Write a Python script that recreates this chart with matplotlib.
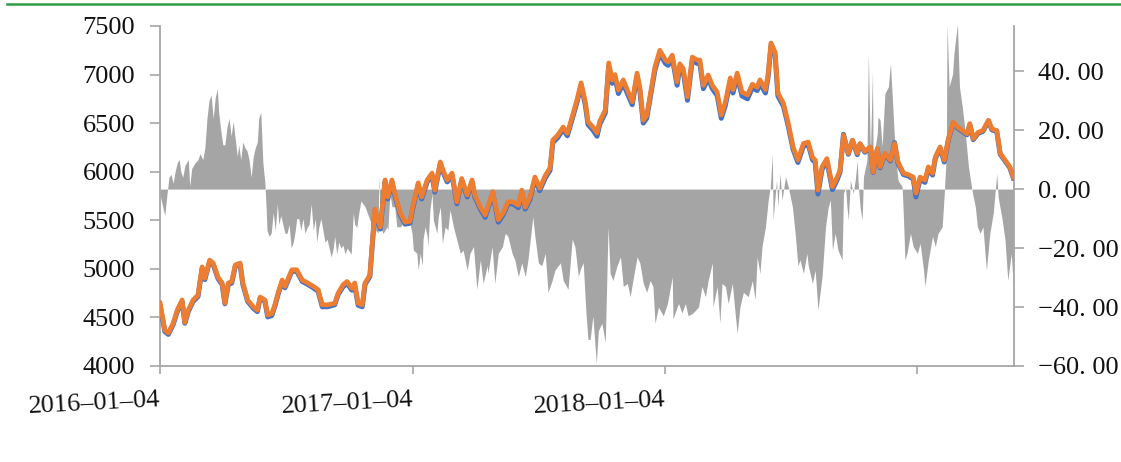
import matplotlib
matplotlib.use("Agg")
import matplotlib.pyplot as plt
import matplotlib.lines as mlines
import numpy as np
import pandas as pd

# ---------------- data ----------------
start_date = "2016-01-04"

# price lines: day offset from 2016-01-04
line_days = [0, 7, 12, 19, 25, 32, 36, 41, 48, 55, 61, 65, 72, 77, 84, 90, 94, 99, 104, 109,
             116, 120, 127, 135, 141, 145, 152, 156, 162, 167, 171, 177, 181, 191, 198, 206, 214, 222, 229, 235,
             243, 253, 258, 265, 271, 278, 282, 287, 293, 297, 304, 309, 311, 319, 326, 330, 336, 340, 348, 355,
             362, 366, 374, 379, 387, 394, 398, 406, 410, 416, 423, 430, 437, 445, 452, 456, 464, 471, 478, 482,
             490, 497, 504, 511, 519, 524, 529, 536, 543, 550, 558, 565, 569, 576, 584, 590, 597, 604, 610, 616,
             620, 627, 633, 637, 645, 650, 655, 659, 664, 671, 677, 684, 691, 695, 700, 705, 713, 717, 724, 732,
             736, 742, 749, 753, 758, 764, 771, 778, 782, 787, 794, 800, 807, 813, 819, 826, 830, 836, 843, 851,
             858, 865, 869, 877, 881, 885, 891, 895, 903, 910, 917, 924, 932, 939, 945, 949, 953, 959, 966, 974,
             981, 985, 990, 997, 1003, 1010, 1014, 1021, 1029, 1033, 1039, 1043, 1050, 1058, 1064, 1069, 1077, 1084, 1091, 1095,
             1101, 1108, 1113, 1119, 1123, 1130, 1136, 1142, 1149, 1155, 1162, 1169, 1173, 1178, 1185, 1192, 1200, 1205, 1212, 1217,
             1224, 1231, 1236]

orange_vals = [4648, 4370, 4340, 4440, 4575, 4680, 4450, 4575, 4680, 4730, 5020, 4905, 5090, 5060, 4915, 4855, 4650, 4855, 4870, 5040,
               5060, 4855, 4680, 4610, 4575, 4710, 4680, 4525, 4540, 4645, 4750, 4885, 4820, 4990, 4990, 4885, 4855, 4820, 4785, 4630,
               4630, 4645, 4750, 4835, 4870, 4800, 4855, 4645, 4630, 4855, 4935, 5400, 5615, 5430, 5915, 5740, 5915, 5780, 5575, 5480,
               5490, 5635, 5885, 5740, 5915, 5985, 5810, 6100, 6015, 5915, 5985, 5690, 5930, 5760, 5915, 5760, 5635, 5555, 5710, 5795,
               5505, 5575, 5690, 5690, 5655, 5810, 5635, 5740, 5945, 5830, 5960, 6040, 6325, 6375, 6460, 6395, 6565, 6740, 6915, 6720,
               6515, 6460, 6400, 6520, 6635, 7120, 6945, 7000, 6840, 6945, 6840, 6720, 7015, 6870, 6530, 6580, 6915, 7080, 7250, 7150,
               7130, 7200, 6925, 7110, 7060, 6770, 7180, 7150, 7150, 6890, 6995, 6890, 6820, 6585, 6720, 6965, 6845, 7015, 6820, 6790,
               6900, 6870, 6945, 6845, 7015, 7325, 7230, 6810, 6705, 6500, 6255, 6120, 6290, 6305, 6150, 6120, 5810, 6050, 6135, 5845,
               5945, 6015, 6375, 6190, 6325, 6190, 6290, 6210, 6255, 5995, 6240, 6050, 6190, 6120, 6290, 6100, 5985, 5970, 5945, 5780,
               5945, 5915, 6050, 5985, 6150, 6255, 6120, 6340, 6510, 6460, 6425, 6390, 6495, 6340, 6405, 6425, 6530, 6440, 6425, 6190,
               6120, 6050, 5945]

blue_vals = [4630, 4355, 4325, 4425, 4560, 4665, 4440, 4560, 4665, 4715, 5000, 4890, 5080, 5045, 4900, 4840, 4640, 4840, 4855, 5025,
             5045, 4840, 4665, 4595, 4560, 4695, 4665, 4505, 4520, 4630, 4735, 4870, 4805, 4975, 4975, 4870, 4840, 4805, 4770, 4610,
             4610, 4630, 4735, 4815, 4850, 4780, 4835, 4625, 4610, 4840, 4920, 5385, 5595, 5410, 5895, 5720, 5895, 5760, 5555, 5460,
             5470, 5615, 5865, 5720, 5895, 5965, 5790, 6080, 5995, 5895, 5965, 5670, 5910, 5740, 5895, 5740, 5615, 5530, 5690, 5775,
             5480, 5555, 5670, 5670, 5630, 5790, 5615, 5715, 5920, 5805, 5935, 6015, 6300, 6350, 6435, 6370, 6540, 6715, 6890, 6690,
             6485, 6430, 6365, 6490, 6605, 7090, 6910, 6970, 6805, 6910, 6805, 6690, 6985, 6835, 6500, 6550, 6885, 7050, 7220, 7115,
             7095, 7170, 6890, 7080, 7025, 6735, 7150, 7115, 7115, 6855, 6960, 6855, 6785, 6550, 6685, 6930, 6810, 6985, 6780, 6750,
             6865, 6835, 6910, 6810, 6985, 7300, 7200, 6780, 6675, 6470, 6230, 6095, 6265, 6280, 6125, 6095, 5770, 6025, 6110, 5815,
             5920, 5995, 6385, 6180, 6320, 6175, 6285, 6200, 6250, 5990, 6230, 6040, 6180, 6110, 6300, 6085, 5970, 5955, 5925, 5740,
             5925, 5890, 6030, 5965, 6135, 6240, 6100, 6330, 6500, 6450, 6415, 6380, 6485, 6330, 6395, 6415, 6520, 6430, 6415, 6180,
             6110, 6040, 5935]

# spread (grey area, right axis)
spread_days = [0, 3, 7, 10, 13, 16, 19, 22, 25, 28, 30, 33, 36, 41, 43, 46, 51, 55, 58, 62,
               65, 68, 71, 74, 77, 80, 83, 85, 88, 91, 94, 97, 100, 103, 106, 109, 112, 114, 117, 120,
               123, 126, 129, 132, 135, 138, 141, 143, 146, 149, 152, 154, 155, 158, 161, 164, 167, 170, 172, 175,
               178, 181, 184, 187, 190, 193, 196, 198, 201, 204, 207, 210, 213, 216, 219, 222, 225, 227, 230, 233,
               236, 239, 242, 245, 248, 251, 253, 256, 259, 262, 265, 268, 271, 274, 277, 280, 282, 285, 288, 291,
               297, 304, 309, 316, 317, 319, 323, 329, 330, 333, 336, 340, 343, 348, 352, 358, 362, 365, 367, 372,
               374, 377, 380, 381, 384, 387, 388, 391, 394, 396, 401, 403, 406, 409, 413, 417, 420, 425, 430, 435,
               439, 445, 449, 454, 459, 464, 468, 474, 475, 481, 485, 490, 496, 500, 504, 510, 514, 519, 524, 529,
               533, 540, 543, 548, 553, 558, 562, 568, 572, 580, 584, 591, 597, 601, 606, 609, 613, 617, 620, 623,
               627, 632, 635, 640, 645, 649, 652, 656, 662, 667, 671, 677, 681, 685, 691, 695, 700, 705, 710, 714,
               717, 722, 729, 735, 742, 743, 751, 756, 761, 765, 772, 780, 785, 790, 794, 800, 801, 807, 811, 814,
               819, 823, 829, 833, 836, 840, 845, 852, 858, 862, 865, 869, 872, 877, 881, 884, 887, 888, 893, 895,
               898, 901, 906, 910, 916, 920, 924, 927, 932, 937, 939, 945, 949, 953, 959, 964, 968, 971, 974, 978,
               982, 988, 990, 993, 995, 997, 1000, 1004, 1007, 1010, 1011, 1014, 1017, 1019, 1024, 1026, 1029, 1032, 1033, 1039,
               1040, 1043, 1046, 1050, 1055, 1058, 1061, 1065, 1069, 1075, 1077, 1079, 1082, 1087, 1091, 1097, 1101, 1106, 1108, 1113,
               1119, 1123, 1127, 1133, 1136, 1139, 1140, 1143, 1148, 1150, 1155, 1158, 1162, 1166, 1171, 1177, 1181, 1184, 1188, 1192,
               1197, 1202, 1207, 1212, 1214, 1220, 1224, 1228, 1233, 1236]

spread_vals = [-2, -5, -9, -2, 4, 5, 2, 6, 9, 10, 6, 4, 8, 10, 1, 7, 9, 10, 12, 10,
               14, 24, 30, 32, 24, 31, 34, 26, 20, 15, 15, 21, 24, 18, 23, 17, 11, 15, 10, 16,
               14, 13, 10, 4, 11, 14, 16, 24, 26, 9, 2, -8, -14, -16, -15, -8, -14, -5, -12, -9,
               -12, -15, -15, -12, -20, -18, -14, -10, -10, -14, -10, -15, -13, -12, -5, -14, -10, -18, -13, -10,
               -14, -18, -17, -20, -23, -20, -16, -22, -18, -20, -19, -22, -20, -21, -22, -8, -12, -13, -8, -4,
               -6, -10.5, -12.8, -15, 5, -12.8, -15, -12.8, -14, -1.5, -6, -6, -12.8, -12.8, -11.5, -10.5, -11.5, -15, -20.7, -21.8,
               -27.5, -21.8, -26, -17, -12.8, -16, -19.5, -7, -1.5, -10.5, -15, -9.4, -6, -18.4, -12.8, -14, -7, -12.8, -17.3, -21.8,
               -20.7, -27.5, -21.8, -19.5, -34, -24, -32, -26, -28.6, -19.5, -32, -21.8, -19.5, -15, -16, -21.8, -24, -29.7, -25, -29.7,
               -24, -9.4, -16, -25, -26, -21.8, -35, -31, -27.5, -25, -31, -34, -17, -19.5, -29.7, -27, -25, -42, -51, -51,
               -43, -59, -48, -45.5, -52, -12.8, -28.6, -31, -26, -23, -33, -32, -36.5, -31, -23, -25, -32, -35, -31, -33,
               -45.5, -40, -43, -38.8, -29.7, -44, -38.8, -42, -38.8, -43, -42, -40, -33, -36.5, -31, -25, -40, -33, -45.5, -32,
               -33, -38.8, -32, -42, -49, -40, -35, -36.5, -31, -37.6, -23, -28.6, -19.5, -12.8, -3.7, 0.8, 12, -10.5, 3, -6,
               5.3, -3.7, 4.2, 0.8, -6, -15, -26, -24, -28.6, -21.8, -26, -32, -27.5, -41, -29.7, -12.8, -6, -3.7, -20.7, -15,
               -20.7, -24, -1.5, 0.8, -6, -10.5, 3, -1.5, 3, 9.8, 3, -6, -10.5, 4.2, 9.8, 46, 12, 40, 9.8, 18.9,
               24.5, 23.4, 14.4, 32.4, 34.7, 42.6, 30, 12, 3, 0.8, -10.5, -24, -21.8, -15, -19.5, -21.8, -18.4, -27.5, -33, -24,
               -16, -19.5, -15, -12.8, -1.5, 12, 56, 34.7, 39, 46, 56, 34.7, 28, 20, 7.6, -1.5, -6, -12.8, -15, -12.8,
               -27.5, -15, -8, 5.3, -2.6, -10.5, -17.3, -31, -21.8, -33]

left_ticks = [4000, 4500, 5000, 5500, 6000, 6500, 7000, 7500]
right_ticks = [-60, -40, -20, 0, 20, 40]
x_tick_labels = ["2016-01-04", "2017-01-04", "2018-01-04", "2019-01-04"]
x_tick_shown = ["2016-01-04", "2017-01-04", "2018-01-04", ""]
end_date = "2019-05-25"

# ---------------- plotting ----------------
plt.rcParams['font.family'] = ['Liberation Serif', 'DejaVu Serif']
FS = 19

base = pd.Timestamp(start_date)
line_x = base + pd.to_timedelta(line_days, unit="D")
spread_x = base + pd.to_timedelta(spread_days, unit="D")

fig = plt.figure(figsize=(11.21, 4.62), dpi=100)
ax = fig.add_axes([160/1121, 96/462, (1014-160)/1121, (366-26)/462])
ax2 = ax.twinx()

# grey area on secondary (right) axis, behind lines
ax2.fill_between(spread_x, 0, spread_vals, color="#A5A5A5", linewidth=0, zorder=1)
ax2.set_ylim(-60, 55.3)
ax2.set_yticks(right_ticks)
ax2.set_yticklabels([("%.2f" % v).replace(".", ". ").replace("-", "\u2212") for v in right_ticks])

ax.plot(line_x, blue_vals, color="#4472C4", linewidth=3.6, solid_joinstyle="round", zorder=3)
ax.plot(line_x, orange_vals, color="#ED7D31", linewidth=3.4, solid_joinstyle="round", zorder=4)
ax.set_ylim(4000, 7500)
ax.set_yticks(left_ticks)
ax.set_yticklabels([str(v) for v in left_ticks])

ax.set_zorder(ax2.get_zorder() + 1)
ax.patch.set_visible(False)

ax.set_xlim(base, pd.Timestamp(end_date))
ax.set_xticks(pd.to_datetime(x_tick_labels))
ax.set_xticklabels([s.replace("-", "\u2013") for s in x_tick_shown],
                   rotation=3, ha="right", rotation_mode="anchor")

spine_c = "#A6A6A6"
for a in (ax, ax2):
    for s in a.spines.values():
        s.set_color(spine_c)
        s.set_linewidth(1.3)
    a.spines["top"].set_visible(False)
ax.spines["right"].set_visible(False)
ax2.spines["left"].set_visible(False)
ax2.spines["bottom"].set_visible(False)

ax.tick_params(axis="y", length=7, width=1.2, color=spine_c, labelsize=FS, pad=11, labelcolor="#111111")
ax.tick_params(axis="x", length=6, width=1.2, color=spine_c, labelsize=FS, pad=11, labelcolor="#111111")
ax2.tick_params(axis="y", length=7, width=1.2, color=spine_c, labelsize=FS, pad=10, labelcolor="#111111")

# green rule at top of the figure
fig.add_artist(mlines.Line2D([7/1121, 1.0], [1 - 4/462, 1 - 4/462], color="#2E9B45", linewidth=1.8,
                             transform=fig.transFigure))

fig.savefig("out.png", dpi=100)
